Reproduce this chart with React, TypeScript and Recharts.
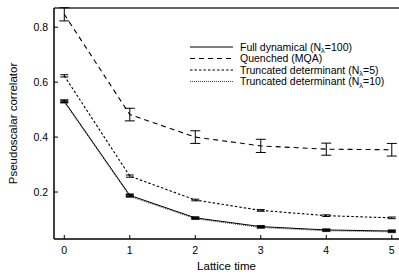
import React from "react";
import {
  ComposedChart, Line, XAxis, YAxis, ErrorBar, ReferenceLine, Legend,
} from "recharts";

const times = [0, 1, 2, 3, 4, 5];
const fullDyn = [0.531, 0.188, 0.106, 0.074, 0.062, 0.058];
const fullErr = [0.004, 0.004, 0.003, 0.003, 0.003, 0.003];
const quenched = [0.847, 0.482, 0.4, 0.368, 0.356, 0.354];
const quenchedErr = [0.024, 0.023, 0.023, 0.024, 0.022, 0.023];
const trunc5 = [0.623, 0.258, 0.171, 0.133, 0.114, 0.106];
const trunc5Err = [0.004, 0.004, 0.003, 0.003, 0.003, 0.003];
const trunc10 = [0.527, 0.184, 0.103, 0.071, 0.059, 0.055];
const trunc10Err = [0.003, 0.003, 0.003, 0.003, 0.003, 0.003];

const xTicks = [0, 1, 2, 3, 4, 5];
const yTicks = [0.2, 0.4, 0.6, 0.8];

const FONT = '"Liberation Sans", Arial, Helvetica, sans-serif';

const data = times.map((t, i) => ({
  t,
  full: fullDyn[i], fullErr: fullErr[i],
  quenched: quenched[i], quenchedErr: quenchedErr[i],
  trunc5: trunc5[i], trunc5Err: trunc5Err[i],
  trunc10: trunc10[i], trunc10Err: trunc10Err[i],
}));

const SERIES = [
  { key: "full", label: "Full dynamical (N", sub: "λ", tail: "=100)", dash: undefined, stroke: "#000", w: 1 },
  { key: "quenched", label: "Quenched (MQA)", sub: "", tail: "", dash: "5 4", stroke: "#000", w: 1.1 },
  { key: "trunc5", label: "Truncated determinant (N", sub: "λ", tail: "=5)", dash: "2.5 2", stroke: "#000", w: 1.1 },
  { key: "trunc10", label: "Truncated determinant (N", sub: "λ", tail: "=10)", dash: "1 1", stroke: "#444", w: 1 },
];

// eslint-disable-next-line @typescript-eslint/no-explicit-any
function XTick({ x, y, payload }: any) {
  return (
    <g>
      <line x1={x} x2={x} y1={y} y2={y - 4} stroke="#000" strokeWidth={1} />
      <text x={x} y={y + 15} textAnchor="middle" fontSize={10.5} fontFamily={FONT} fill="#000">
        {payload.value}
      </text>
    </g>
  );
}

// eslint-disable-next-line @typescript-eslint/no-explicit-any
function YTick({ x, y, payload }: any) {
  return (
    <g>
      <line x1={x} x2={x + 4} y1={y} y2={y} stroke="#000" strokeWidth={1} />
      <text x={x - 6} y={y + 3.8} textAnchor="end" fontSize={10.5} fontFamily={FONT} fill="#000">
        {payload.value.toFixed(1)}
      </text>
    </g>
  );
}

// eslint-disable-next-line @typescript-eslint/no-explicit-any
function YTitle({ viewBox }: any) {
  const cx = 13;
  const cy = viewBox.y + viewBox.height / 2;
  return (
    <text x={cx} y={cy} transform={`rotate(-90 ${cx} ${cy})`} textAnchor="middle"
      dominantBaseline="central" fontSize={11.5} fontFamily={FONT} fill="#000">
      Pseudoscalar correlator
    </text>
  );
}

// eslint-disable-next-line @typescript-eslint/no-explicit-any
function XTitle({ viewBox }: any) {
  return (
    <text x={viewBox.x + viewBox.width / 2} y={viewBox.y + 31} textAnchor="middle"
      fontSize={11.5} fontFamily={FONT} fill="#000">
      Lattice time
    </text>
  );
}

function LegendBox() {
  return (
    <svg width={210} height={52}>
      {SERIES.map((s, i) => {
        const y = 6 + i * 11.5;
        return (
          <g key={s.key}>
            <line x1={2} x2={45} y1={y} y2={y} stroke={s.stroke} strokeWidth={s.w}
              strokeDasharray={s.dash} />
            <text x={52} y={y + 3.8} fontSize={10.5} fontFamily={FONT} fill="#000">
              {s.label}
              {s.sub && <tspan fontSize={7.5} dy={2.5}>{s.sub}</tspan>}
              {s.tail && <tspan dy={s.sub ? -2.5 : 0}>{s.tail}</tspan>}
            </text>
          </g>
        );
      })}
    </svg>
  );
}

export default function App() {
  return (
    <div style={{ position: "absolute", left: 0, top: 0, background: "#fff" }}>
      <ComposedChart width={399} height={274} data={data}
        margin={{ top: 8, right: 0, bottom: 0, left: 0 }}>
        <XAxis dataKey="t" type="number" domain={[-0.157, 5.11]} ticks={xTicks}
          allowDataOverflow height={35} tickSize={0} tickMargin={0} tick={<XTick />}
          axisLine={{ stroke: "#000", strokeWidth: 1.5 }} label={<XTitle />} />
        <YAxis type="number" domain={[0.029, 0.87]} ticks={yTicks} allowDataOverflow
          width={54} tickSize={0} tickMargin={0} tick={<YTick />}
          axisLine={{ stroke: "#000", strokeWidth: 1.5 }} label={<YTitle />} />
        <ReferenceLine y={0.87} stroke="#666" strokeWidth={2} />
        <Legend layout="horizontal" verticalAlign="middle" content={<LegendBox />}
          wrapperStyle={{ left: 188, top: 41, width: 210, height: 52 }} />
        <Line dataKey="trunc10" type="linear" stroke="#444" strokeWidth={1} strokeDasharray="1 1"
          dot={false} isAnimationActive={false}>
          <ErrorBar dataKey="trunc10Err" width={4} stroke="#444" strokeWidth={1} direction="y" />
        </Line>
        <Line dataKey="full" type="linear" stroke="#000" strokeWidth={1}
          dot={false} isAnimationActive={false}>
          <ErrorBar dataKey="fullErr" width={4} stroke="#000" strokeWidth={1.5} direction="y" />
        </Line>
        <Line dataKey="trunc5" type="linear" stroke="#000" strokeWidth={1.1} strokeDasharray="2.5 2"
          dot={false} isAnimationActive={false}>
          <ErrorBar dataKey="trunc5Err" width={4} stroke="#000" strokeWidth={1} direction="y" />
        </Line>
        <Line dataKey="quenched" type="linear" stroke="#000" strokeWidth={1.1} strokeDasharray="5 4"
          dot={false} isAnimationActive={false}>
          <ErrorBar dataKey="quenchedErr" width={5} stroke="#000" strokeWidth={1} direction="y" />
        </Line>
      </ComposedChart>
    </div>
  );
}
